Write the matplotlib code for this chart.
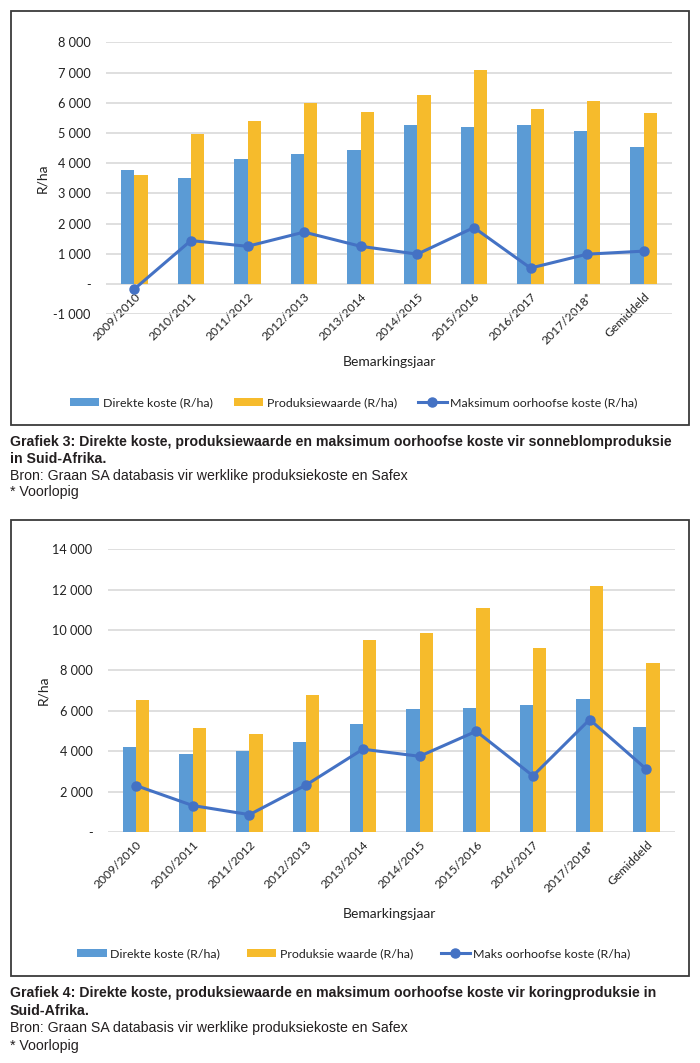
import matplotlib
matplotlib.use("Agg")
import matplotlib.pyplot as plt
from matplotlib.patches import Rectangle
from matplotlib.ticker import FuncFormatter, MultipleLocator
import numpy as np

# data
jare = ["2009/2010", "2010/2011", "2011/2012", "2012/2013", "2013/2014",
        "2014/2015", "2015/2016", "2016/2017", "2017/2018*", "Gemiddeld"]

# Grafiek 3: sonneblom
son_direk = [3770, 3520, 4140, 4290, 4440, 5270, 5200, 5260, 5050, 4550]
son_prod = [3610, 4950, 5400, 6000, 5710, 6270, 7070, 5800, 6060, 5650]
son_maks = [-165, 1440, 1250, 1720, 1250, 990, 1870, 530, 990, 1090]

# Grafiek 4: koring
kor_direk = [4230, 3840, 4000, 4450, 5370, 6070, 6120, 6310, 6610, 5210]
kor_prod = [6550, 5140, 4840, 6790, 9490, 9850, 11110, 9120, 12200, 8350]
kor_maks = [2300, 1310, 860, 2330, 4100, 3750, 4990, 2780, 5570, 3110]

BLUE = "#5B9BD5"
YELLOW = "#F6BB2C"
LINE = "#4472C4"
GRID = "#D9D9D9"
TXT = "#222222"
FONT = "Lato"

plt.rcParams["font.family"] = [FONT, "DejaVu Sans"]

W, H = 700, 1063
fig = plt.figure(figsize=(W / 100, H / 100), dpi=100)


def fmt(v, pos):
    if abs(v) < 1e-9:
        return "-"
    return "{:,.0f}".format(v).replace(",", " ")


def px(x, y):
    return x / W, 1 - y / H


def chart(rect, direk, prod, maks, ylim, step, labels):
    ax = fig.add_axes(rect)
    x = np.arange(len(jare))
    bw = 0.235
    b1 = ax.bar(x - bw / 2, direk, bw, color=BLUE, label=labels[0], zorder=2)
    b2 = ax.bar(x + bw / 2, prod, bw, color=YELLOW, label=labels[1], zorder=2)
    ln, = ax.plot(x, maks, color=LINE, lw=2.2, marker="o", ms=6.5,
                  label=labels[2], zorder=3)
    ax.set_xlim(-0.5, len(jare) - 0.5)
    ax.set_ylim(*ylim)
    ax.yaxis.set_major_locator(MultipleLocator(step))
    ax.yaxis.set_major_formatter(FuncFormatter(fmt))
    ax.grid(axis="y", color=GRID, lw=1.2, zorder=0)
    ax.set_axisbelow(True)
    for s in ["top", "right", "left"]:
        ax.spines[s].set_visible(False)
    ax.spines["bottom"].set_position(("data", 0))
    ax.spines["bottom"].set_visible(False)
    ax.set_xticks(x)
    ax.set_xticklabels(jare, rotation=45, ha="right", rotation_mode="anchor",
                       fontsize=8.7, color=TXT)
    ax.tick_params(axis="x", length=0, pad=5)
    ax.tick_params(axis="y", length=0, pad=11, labelsize=9.2, labelcolor=TXT)
    ax.text(-0.113, 0.5, "R/ha", transform=ax.transAxes, rotation=90,
            ha="center", va="center", fontsize=10, color=TXT)
    return ax, [b1, b2, ln]


def legend(handles, labels, y, cs):
    fig.legend(handles, labels, loc="center", bbox_to_anchor=px(354, y),
               ncol=3, frameon=False, fontsize=8.9, handlelength=2.35,
               handleheight=0.6, handletextpad=0.3, columnspacing=cs,
               labelcolor=TXT)


# top chart
lab1 = ["Direkte koste (R/ha)", "Produksiewaarde (R/ha)",
        "Maksimum oorhoofse koste (R/ha)"]
ax1, h1 = chart([106 / W, 1 - 314.3 / H, 566 / W, 272 / H],
                son_direk, son_prod, son_maks, (-1000, 8000), 1000, lab1)
fig.text(*px(389, 362), "Bemarkingsjaar", ha="center", va="center",
         fontsize=10, color=TXT)
legend(h1, lab1, 403, 1.7)

# bottom chart
lab2 = ["Direkte koste (R/ha)", "Produksie waarde (R/ha)",
        "Maks oorhoofse koste (R/ha)"]
ax2, h2 = chart([107.7 / W, 1 - 832 / H, 567 / W, 282.7 / H],
                kor_direk, kor_prod, kor_maks, (0, 14000), 2000, lab2)
fig.text(*px(389, 914), "Bemarkingsjaar", ha="center", va="center",
         fontsize=10, color=TXT)
legend(h2, lab2, 954, 2.2)

# frames round the charts
for y0, y1 in [(10.7, 424.5), (520, 976)]:
    fig.add_artist(Rectangle(px(10.7, y1), (688.5 - 10.7) / W, (y1 - y0) / H,
                             transform=fig.transFigure, fill=False,
                             ec="#3a3a3a", lw=1.3))

# captions
cap = "Liberation Sans"
captions = [
    (442, "Grafiek 3: Direkte koste, produksiewaarde en maksimum oorhoofse koste vir sonneblomproduksie", True),
    (459, "in Suid-Afrika.", True),
    (476, "Bron: Graan SA databasis vir werklike produksiekoste en Safex", False),
    (492, "* Voorlopig", False),
    (993, "Grafiek 4: Direkte koste, produksiewaarde en maksimum oorhoofse koste vir koringproduksie in", True),
    (1011, "Suid-Afrika.", True),
    (1028, "Bron: Graan SA databasis vir werklike produksiekoste en Safex", False),
    (1046, "* Voorlopig", False),
]
for y, txt, bold in captions:
    fig.text(*px(10, y), txt, ha="left", va="center", fontsize=10.2,
             family=cap, fontweight="bold" if bold else "normal",
             color="#231f20")

fig.savefig("out.png", dpi=100)
